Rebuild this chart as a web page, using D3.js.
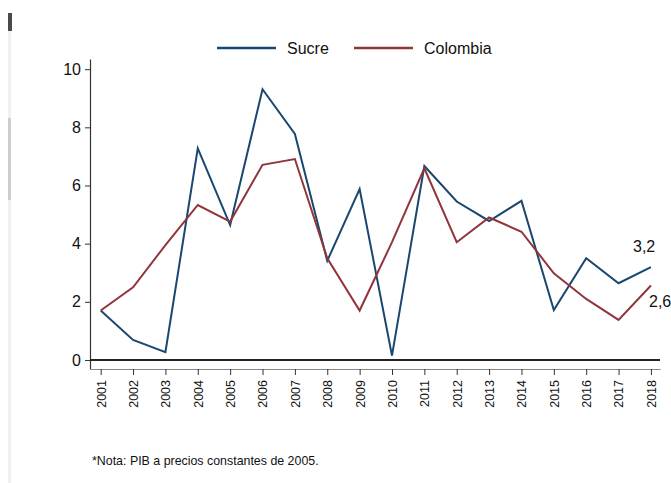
<!DOCTYPE html>
<html>
<head>
<meta charset="utf-8">
<script src="https://cdn.jsdelivr.net/npm/d3@7"></script>
<style>
  html, body { margin: 0; padding: 0; background: #fff; }
  svg { display: block; font-family: "Liberation Sans", Arial, sans-serif; }
</style>
</head>
<body>
<svg id="chart" width="671" height="483"></svg>
<script>
// datos
let years = [2001, 2002, 2003, 2004, 2005, 2006, 2007, 2008, 2009, 2010, 2011, 2012, 2013, 2014, 2015, 2016, 2017, 2018];
let sucre = [1.7, 0.69, 0.27, 7.28, 4.64, 9.31, 7.77, 3.41, 5.88, 0.15, 6.67, 5.45, 4.78, 5.47, 1.72, 3.5, 2.64, 3.19];
let colombia = [1.7, 2.5, 3.95, 5.33, 4.76, 6.71, 6.91, 3.5, 1.7, 4.05, 6.59, 4.05, 4.9, 4.41, 2.98, 2.1, 1.38, 2.56];
let yTicks = [0, 2, 4, 6, 8, 10];
let seriesNames = ["Sucre", "Colombia"];
let endLabels = ["3,2", "2,6"];

let blue = "#1a476f";
let red = "#90353b";

let svg = d3.select("#chart");

// barra de desplazamiento a la izquierda
svg.append("rect").attr("x", 8).attr("y", 30).attr("width", 3).attr("height", 453).attr("fill", "#f1f1f1");
svg.append("rect").attr("x", 8).attr("y", 118).attr("width", 3).attr("height", 82).attr("fill", "#cdcdcd");
svg.append("rect").attr("x", 8).attr("y", 13).attr("width", 4).attr("height", 18).attr("fill", "#4a4a4a");

// escalas
let x = d3.scaleLinear().domain([2000.67, 2018.28]).range([90, 660]);
let y = d3.scaleLinear().domain([-0.31, 10.35]).range([369, 59]);

// eje y
let yAxis = svg.append("g")
    .attr("transform", "translate(90,0)")
    .call(d3.axisLeft(y).tickValues(yTicks).tickSize(5).tickPadding(4).tickSizeOuter(0));
yAxis.select(".domain").attr("stroke", "#333").attr("stroke-width", 1.2);
yAxis.selectAll(".tick line").attr("stroke", "#333");
yAxis.selectAll("text").attr("font-size", 16).attr("fill", "#111").attr("font-family", "Liberation Sans, Arial, sans-serif");

// eje x
let xAxis = svg.append("g")
    .attr("transform", "translate(0,369)")
    .call(d3.axisBottom(x).tickValues(years).tickFormat(d3.format("d")).tickSize(6).tickSizeOuter(0));
xAxis.select(".domain").attr("stroke", "#888").attr("stroke-width", 1.2);
xAxis.selectAll(".tick line").attr("stroke", "#333");
xAxis.selectAll("text")
    .attr("font-size", 12.5)
    .attr("fill", "#111")
    .attr("font-family", "Liberation Sans, Arial, sans-serif")
    .attr("transform", "rotate(-90)")
    .attr("text-anchor", "end")
    .attr("x", -11)
    .attr("y", 0)
    .attr("dy", "0.35em");

// línea en cero
svg.append("line")
    .attr("x1", 90).attr("x2", 660)
    .attr("y1", y(0)).attr("y2", y(0))
    .attr("stroke", "#222").attr("stroke-width", 2.2);

// series
let line = d3.line().x((d, i) => x(years[i])).y(d => y(d));
let series = [sucre, colombia];
let colors = [blue, red];

svg.append("g")
    .selectAll("path")
    .data(series)
    .join("path")
    .attr("d", d => line(d))
    .attr("fill", "none")
    .attr("stroke", (d, i) => colors[i])
    .attr("stroke-width", 2)
    .attr("stroke-linejoin", "miter");

// etiquetas finales
svg.append("text")
    .attr("x", 633).attr("y", y(sucre[17]) - 15)
    .attr("font-size", 16).attr("fill", "#111")
    .text(endLabels[0]);
svg.append("text")
    .attr("x", 649).attr("y", y(colombia[17]) + 21)
    .attr("font-size", 16).attr("fill", "#111")
    .text(endLabels[1]);

// leyenda
let legendX = [217, 354];
let legend = svg.append("g")
    .selectAll("g")
    .data(seriesNames)
    .join("g")
    .attr("transform", (d, i) => `translate(${legendX[i]},48)`);
legend.append("line")
    .attr("x1", 0).attr("x2", 59).attr("y1", 0).attr("y2", 0)
    .attr("stroke", (d, i) => colors[i]).attr("stroke-width", 2.5);
legend.append("text")
    .attr("x", 70).attr("y", 6)
    .attr("font-size", 16).attr("fill", "#111")
    .text(d => d);

// nota
svg.append("text")
    .attr("x", 92).attr("y", 465)
    .attr("font-size", 12.4).attr("fill", "#111")
    .text("*Nota: PIB a precios constantes de 2005.");
</script>
</body>
</html>
